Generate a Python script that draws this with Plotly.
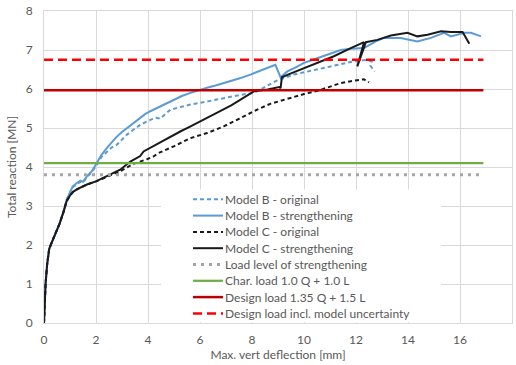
import plotly.graph_objects as go

# ---------------- data ----------------
b_orig_x = [0, 0.02, 0.06, 0.12, 0.2, 0.3, 0.45, 0.6, 0.75, 0.87, 1.0, 1.1, 1.26, 1.4, 1.5, 1.65, 1.85,
            2.03, 2.2, 2.42, 2.6, 2.8, 3.0, 3.19, 3.45, 3.7, 4.09, 4.3, 4.47, 4.65, 4.86, 5.2, 5.63,
            6.27, 6.91, 7.56, 8.07, 8.5, 8.97, 9.61, 10.51, 11.28, 11.92, 12.44, 12.6, 12.55, 12.72]
b_orig_y = [0, 0.4, 1.0, 1.5, 1.9, 2.07, 2.3, 2.55, 2.85, 3.16, 3.35, 3.48, 3.56, 3.62, 3.6, 3.74, 3.88,
            4.05, 4.25, 4.4, 4.5, 4.57, 4.7, 4.83, 4.96, 5.08, 5.21, 5.26, 5.24, 5.35, 5.47, 5.53, 5.6,
            5.68, 5.77, 5.85, 5.9, 6.05, 6.22, 6.37, 6.5, 6.62, 6.71, 6.75, 6.7, 6.6, 6.45]

b_str_x = [0, 0.02, 0.06, 0.12, 0.2, 0.3, 0.45, 0.6, 0.75, 0.87, 1.0, 1.1, 1.26, 1.4, 1.5, 1.65, 1.85,
           2.03, 2.2, 2.42, 2.6, 2.8, 3.0, 3.19, 3.45, 3.7, 3.9, 4.09, 4.3, 4.47, 4.75, 4.99, 5.3, 5.63,
           5.95, 6.27, 6.6, 6.91, 7.25, 7.56, 7.94, 8.45, 8.9, 9.1, 9.36, 9.7, 10.0, 10.51, 11.03, 11.41,
           11.8, 12.31, 12.76, 13.08, 13.72, 14.36, 14.88, 15.39, 15.65, 16.17, 16.42, 16.81]
b_str_y = [0, 0.4, 1.0, 1.5, 1.9, 2.07, 2.3, 2.55, 2.85, 3.16, 3.35, 3.5, 3.59, 3.65, 3.62, 3.76, 3.9,
           4.1, 4.3, 4.49, 4.64, 4.78, 4.9, 5.0, 5.12, 5.26, 5.36, 5.43, 5.5, 5.55, 5.65, 5.73, 5.82, 5.9,
           5.97, 6.03, 6.09, 6.15, 6.22, 6.28, 6.37, 6.5, 6.62, 6.3, 6.45, 6.56, 6.67, 6.79, 6.92, 7.0,
           7.03, 7.05, 7.22, 7.31, 7.31, 7.22, 7.31, 7.44, 7.35, 7.44, 7.44, 7.35]

c_orig_x = [0, 0.02, 0.06, 0.12, 0.2, 0.3, 0.45, 0.6, 0.75, 0.87, 1.0, 1.13, 1.3, 1.65, 2.0, 2.29, 2.6,
            2.93, 3.44, 3.96, 4.21, 4.41, 4.99, 5.63, 6.27, 6.91, 7.56, 8.2, 8.7, 9.5, 10.0, 10.6, 11.0,
            11.4, 11.8, 12.3, 12.5]
c_orig_y = [0, 0.4, 1.0, 1.5, 1.9, 2.07, 2.3, 2.55, 2.85, 3.12, 3.27, 3.37, 3.44, 3.55, 3.63, 3.72, 3.8,
            3.89, 4.08, 4.2, 4.27, 4.36, 4.53, 4.74, 4.87, 5.04, 5.26, 5.47, 5.62, 5.78, 5.87, 5.97, 6.07,
            6.15, 6.2, 6.25, 6.17]

c_str_x = [0, 0.02, 0.06, 0.12, 0.2, 0.3, 0.45, 0.6, 0.75, 0.87, 1.0, 1.13, 1.3, 1.65, 2.0, 2.29, 2.6,
           2.93, 3.32, 3.7, 3.83, 4.1, 4.47, 4.8, 5.24, 5.6, 6.0, 6.45, 6.91, 7.2, 7.56, 8.07, 8.6, 9.05,
           9.1, 9.15, 9.5, 9.87, 10.51, 11.15, 11.8, 12.31, 12.05, 12.38, 12.82, 13.34, 13.98, 14.36,
           14.75, 15.27, 15.65, 16.1, 16.36]
c_str_y = [0, 0.4, 1.0, 1.5, 1.9, 2.07, 2.3, 2.55, 2.85, 3.12, 3.27, 3.37, 3.44, 3.55, 3.63, 3.72, 3.82,
           3.93, 4.14, 4.28, 4.4, 4.5, 4.62, 4.75, 4.91, 5.03, 5.17, 5.32, 5.47, 5.58, 5.73, 5.94, 5.99,
           6.05, 6.02, 6.3, 6.4, 6.5, 6.67, 6.84, 7.05, 7.2, 6.58, 7.2, 7.26, 7.37, 7.44, 7.35, 7.39,
           7.48, 7.46, 7.46, 7.16]

level_x = [0, 16.9]
level_strengthening = 3.8
level_char = 4.1
level_design = 5.97
level_design_unc = 6.75

x_ticks = [0, 2, 4, 6, 8, 10, 12, 14, 16, 18]
y_ticks = [0, 1, 2, 3, 4, 5, 6, 7, 8]

names = ["Model B - original", "Model B - strengthening", "Model C - original",
         "Model C - strengthening", "Load level of strengthening", "Char. load 1.0 Q + 1.0 L",
         "Design load 1.35 Q + 1.5 L", "Design load incl. model uncertainty"]

# ---------------- styles ----------------
BLUE = "#5B9BD5"
BLACK = "#1a1a1a"
styles = [
    dict(color=BLUE, width=2, dash="4px,3px"),
    dict(color=BLUE, width=2),
    dict(color=BLACK, width=2, dash="4px,3px"),
    dict(color=BLACK, width=2),
    dict(color="#A5A5A5", width=3, dash="3px,5px"),
    dict(color="#70AD47", width=2.25),
    dict(color="#C00000", width=2.5),
    dict(color="#FF0000", width=2.5, dash="9px,5px"),
]

series = [
    (b_orig_x, b_orig_y),
    (b_str_x, b_str_y),
    (c_orig_x, c_orig_y),
    (c_str_x, c_str_y),
    (level_x, [level_strengthening] * 2),
    (level_x, [level_char] * 2),
    (level_x, [level_design] * 2),
    (level_x, [level_design_unc] * 2),
]

fig = go.Figure()
for (sx, sy), nm, st in zip(series, names, styles):
    fig.add_trace(go.Scatter(x=sx, y=sy, mode="lines", name=nm, line=st, showlegend=False))

# white legend background that hides the grid
fig.add_shape(type="rect", xref="x", yref="y", x0=4.5, x1=15.27, y0=0.02, y1=3.42,
              fillcolor="white", line=dict(width=0), layer="above")

GRID = "#D9D9D9"
TXT = "#595959"

# manual legend (compact row spacing like the original)
L, R, T, B = 44, 4, 11, 42
W, H = 516, 365
pw, ph = W - L - R, H - T - B
row0, step = 199.3, 16.3
for i, (nm, st) in enumerate(zip(names, styles)):
    py = row0 + i * step
    yp = (H - B - py) / ph
    fig.add_shape(type="line", xref="paper", yref="paper",
                  x0=(193 - L) / pw, x1=(223 - L) / pw, y0=yp, y1=yp,
                  line=st, layer="above")
    fig.add_annotation(xref="paper", yref="paper", x=(223 - L) / pw, y=yp, text=nm,
                       showarrow=False, xanchor="left", yanchor="middle",
                       font=dict(size=12, color=TXT))

fig.update_layout(
    width=W, height=H,
    margin=dict(l=L, r=R, t=T, b=B),
    paper_bgcolor="white", plot_bgcolor="white",
    font=dict(family="Lato, Liberation Sans, sans-serif", color=TXT, size=12),
    showlegend=False,
    xaxis=dict(range=[0, 18], tickvals=x_ticks, showgrid=True, gridcolor=GRID, gridwidth=1,
               zeroline=False, showline=True, linecolor=GRID, mirror=True, automargin=False,
               tickfont=dict(size=12, color=TXT), ticklabelstandoff=6,
               title=dict(text="Max. vert deflection [mm]", font=dict(size=12, color=TXT), standoff=1)),
    yaxis=dict(range=[0, 8], tickvals=y_ticks, showgrid=True, gridcolor=GRID, gridwidth=1,
               zeroline=False, showline=True, linecolor=GRID, mirror=True, automargin=False,
               tickfont=dict(size=12, color=TXT), ticklabelstandoff=8,
               title=dict(text="Total reaction [MN]", font=dict(size=12, color=TXT), standoff=6)),
)

fig.write_html("out.html", config={"displayModeBar": False},
               post_script="document.body.style.margin='0px';")
